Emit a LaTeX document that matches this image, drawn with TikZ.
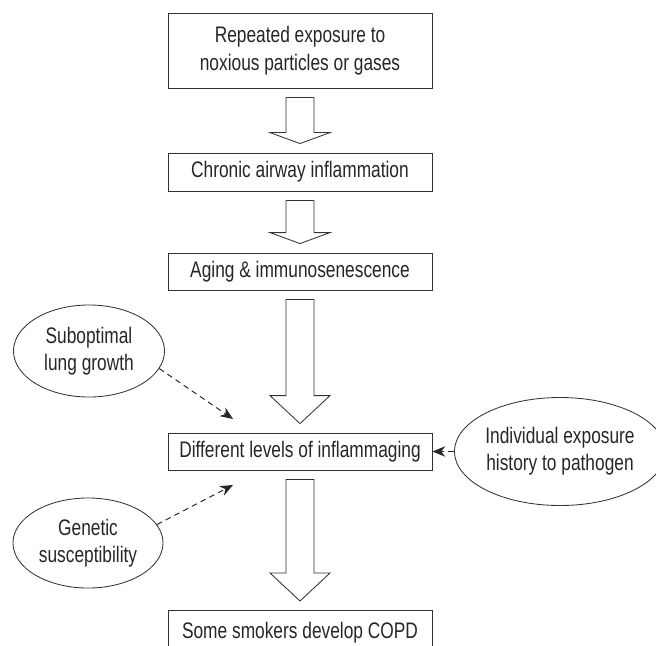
\documentclass[tikz,border=0pt]{standalone}
\usepackage{fontspec}
\setmainfont{Liberation Sans}[FakeStretch=0.77]
\usetikzlibrary{shapes.geometric,arrows.meta,calc}

\tikzset{
	stepbox/.style={draw=black!80, line width=0.6pt, minimum width=6.6cm, inner sep=0pt,
		align=center, text=black!85, font=\fontsize{16}{20}\selectfont},
	factor/.style={ellipse, draw=black!80, line width=0.6pt, inner sep=0pt,
		align=center, text=black!85, font=\fontsize{16}{19}\selectfont},
	fatarrow/.style={draw=black!80, line width=0.6pt, fill=white},
	effect/.style={draw=black!85, line width=0.7pt, dash pattern=on 4pt off 3pt,
		-{Stealth[length=0.32cm, width=0.26cm]}}
}

% hollow block arrow between two boxes: from, to, head length
\newcommand{\fatarrow}[3]{%
	\draw[fatarrow] ($(#1.south)+(-14,9)$) -- ($(#2.north)+(-14,-9-#3)$)
		-- ($(#2.north)+(-30,-9-#3)$) -- ($(#2.north)+(0,-9)$)
		-- ($(#2.north)+(30,-9-#3)$) -- ($(#2.north)+(14,-9-#3)$)
		-- ($(#1.south)+(14,9)$) -- cycle;}

\begin{document}
\begin{tikzpicture}[x=0.025cm, y=-0.025cm]
	\useasboundingbox (0,0) rectangle (656,645);

	% Main chain
	\node[stepbox, minimum height=1.875cm] (exposure) at (300,50.5) {Repeated exposure to\\noxious particles or gases};
	\node[stepbox, minimum height=0.95cm] (chronic) at (300,172) {Chronic airway inflammation};
	\node[stepbox, minimum height=0.925cm] (aging) at (300,271.5) {Aging \& immunosenescence};
	\node[stepbox, minimum height=0.925cm] (inflammaging) at (300,451.5) {Different levels of inflammaging};
	\node[stepbox, anchor=north, text height=0.7cm, text depth=1cm] (copd) at (300,610) {Some smokers develop COPD};

	% Block arrows
	\fatarrow{exposure}{chronic}{11}
	\fatarrow{chronic}{aging}{11}
	\fatarrow{aging}{inflammaging}{28}
	\fatarrow{inflammaging}{copd}{28}

	% Modifying factors
	\node[factor, minimum width=3.775cm, minimum height=2.3cm] (lung) at (89,351) {Suboptimal\\lung growth};
	\node[factor, minimum width=3.75cm, minimum height=2.25cm] (genetic) at (88,543) {Genetic\\susceptibility};
	\node[factor, minimum width=4.45cm, minimum height=2.7cm] (pathogen) at (560,451.5) {Individual exposure\\history to pathogen};

	\coordinate (lungtip) at (233,419);
	\coordinate (genetictip) at (233,485);

	% Dashed influences
	\draw[effect] (lung.-14) -- (lungtip);
	\draw[effect] (genetic.15) -- (genetictip);
	\draw[effect] (pathogen) -- (inflammaging);
\end{tikzpicture}
\end{document}
